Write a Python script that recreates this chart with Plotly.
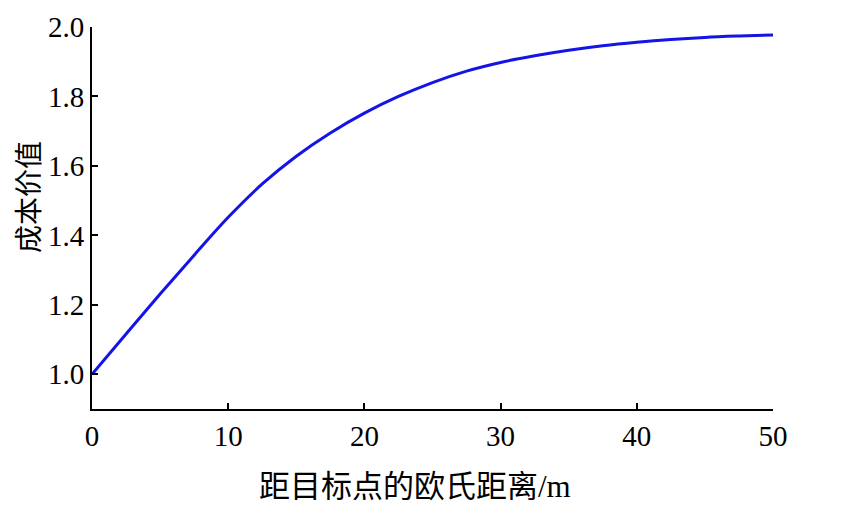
import plotly.graph_objects as go

distance_m = [0, 2.5, 5, 7.5, 10, 12.5, 15, 17.5, 20, 22.5, 25, 27.5, 30,
              32.5, 35, 37.5, 40, 42.5, 45, 47.5, 50]
cost_value = [1.000, 1.116, 1.231, 1.343, 1.452, 1.548, 1.628, 1.695, 1.752,
              1.800, 1.840, 1.873, 1.898, 1.917, 1.933, 1.946, 1.956, 1.964,
              1.970, 1.974, 1.977]
x_ticks = [0, 10, 20, 30, 40, 50]
y_ticks = [1.0, 1.2, 1.4, 1.6, 1.8, 2.0]
x_title = "距目标点的欧氏距离/m"
y_title = "成本价值"

font_family = "Liberation Serif, Times New Roman, Noto Sans CJK SC, serif"

fig = go.Figure()
fig.add_trace(go.Scatter(
    x=distance_m, y=cost_value, mode="lines",
    line=dict(color="#1414e6", width=3, shape="spline", smoothing=1.0),
    showlegend=False,
))

fig.update_layout(
    width=847, height=511,
    margin=dict(l=84, r=82, t=19, b=110),
    paper_bgcolor="white", plot_bgcolor="white",
    font=dict(family=font_family, size=29, color="black"),
)
fig.update_xaxes(
    range=[0, 50], tickvals=x_ticks, ticktext=[str(v) for v in x_ticks],
    showgrid=False, zeroline=False, showline=True, linecolor="black", linewidth=2,
    ticks="inside", ticklen=6, tickwidth=2, tickcolor="black", automargin=False,
)
fig.update_yaxes(
    range=[0.9, 2.0], tickvals=y_ticks, ticktext=[f"{v:.1f}" for v in y_ticks],
    showgrid=False, zeroline=False, showline=True, linecolor="black", linewidth=2,
    ticks="inside", ticklen=6, tickwidth=2, tickcolor="black", automargin=False,
)
fig.add_annotation(
    text=x_title, xref="paper", yref="paper", x=0.474, y=-0.204,
    xanchor="center", yanchor="middle", showarrow=False,
    font=dict(family=font_family, size=31, color="black"),
)
fig.add_annotation(
    text=y_title, xref="paper", yref="paper", x=-0.091, y=0.555,
    xanchor="center", yanchor="middle", showarrow=False, textangle=-90,
    font=dict(family=font_family, size=28, color="black"),
)

fig.write_html("out.html")
